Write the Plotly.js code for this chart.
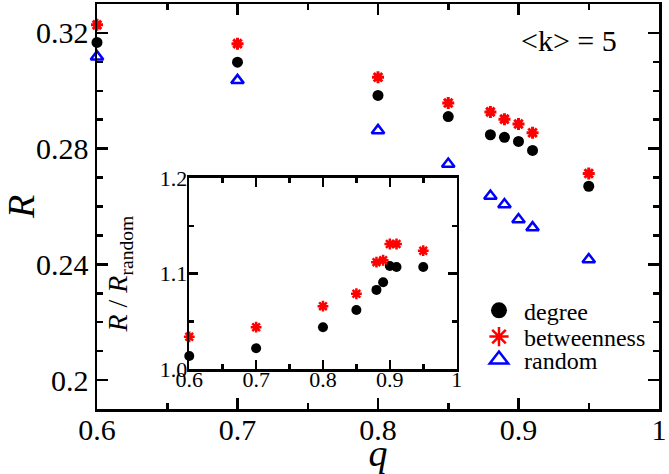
<!DOCTYPE html>
<html>
<head>
<meta charset="utf-8">
<script src="https://cdn.plot.ly/plotly-3.0.1.min.js"></script>
<style>html,body{margin:0;padding:0;background:#fff;}#chart{width:669px;height:474px;}</style>
</head>
<body>
<div id="chart"></div>
<script>
// ---- data ----
const q = [0.6, 0.7, 0.8, 0.85, 0.88, 0.89, 0.9, 0.91, 0.95];
const R_degree      = [0.3167, 0.3099, 0.2984, 0.2911, 0.2848, 0.2839, 0.2825, 0.2794, 0.2670];
const R_betweenness = [0.3228, 0.3163, 0.3047, 0.2958, 0.2927, 0.2902, 0.2885, 0.2855, 0.2714];
const R_random      = [0.3118, 0.3036, 0.2863, 0.2747, 0.2636, 0.2607, 0.2555, 0.2527, 0.2417];
const ratio_degree      = [1.014, 1.022, 1.044, 1.062, 1.083, 1.091, 1.108, 1.107, 1.107];
const ratio_betweenness = [1.034, 1.044, 1.066, 1.079, 1.112, 1.114, 1.131, 1.131, 1.124];
const seriesNames = ['degree', 'betweenness', 'random'];
const annotationText = '&lt;k&gt; = 5';

const FONT = '"Liberation Serif", "Times New Roman", Times, serif';
const BLACK = '#000000', RED = '#ff0000', BLUE = '#0000ff';

const degStyle = {color: BLACK, size: 11, symbol: 'circle'};
const betStyle = {color: RED, size: 10, symbol: 'asterisk-open', line: {color: RED, width: 3}};
const rndStyle = {color: BLUE, size: 11, symbol: 'triangle-up-open', line: {color: BLUE, width: 2.5}};

// empty helper traces so that the label-only axes get created
const holder = (xa, ya) => ({x: [null], y: [null], xaxis: xa, yaxis: ya, type: 'scatter', mode: 'markers',
  showlegend: false, hoverinfo: 'skip'});

const traces = [
  {x: q, y: R_degree, mode: 'markers', type: 'scatter', name: seriesNames[0], marker: degStyle, cliponaxis: false, showlegend: false},
  {x: q, y: R_betweenness, mode: 'markers', type: 'scatter', name: seriesNames[1], marker: betStyle, cliponaxis: false, showlegend: false},
  {x: q, y: R_random, mode: 'markers', type: 'scatter', name: seriesNames[2], marker: rndStyle, cliponaxis: false, showlegend: false},
  {x: q, y: ratio_degree, xaxis: 'x2', yaxis: 'y2', mode: 'markers', type: 'scatter', name: seriesNames[0],
   marker: {color: BLACK, size: 10, symbol: 'circle'}, cliponaxis: false, showlegend: false},
  {x: q, y: ratio_betweenness, xaxis: 'x2', yaxis: 'y2', mode: 'markers', type: 'scatter', name: seriesNames[1],
   marker: {color: RED, size: 9, symbol: 'asterisk-open', line: {color: RED, width: 2.5}}, cliponaxis: false, showlegend: false},
  holder('x3', 'y'), holder('x4', 'y2'), holder('x2', 'y4'),
  // legend entries (no data)
  {x: [null], y: [null], mode: 'markers', type: 'scatter', name: seriesNames[0], legend: 'legend',
   marker: {color: BLACK, size: 16, symbol: 'circle'}},
  {x: [null], y: [null], mode: 'markers', type: 'scatter', name: seriesNames[1], legend: 'legend2',
   marker: {color: RED, size: 16, symbol: 'asterisk-open', line: {color: RED, width: 2.5}}},
  {x: [null], y: [null], mode: 'markers', type: 'scatter', name: seriesNames[2], legend: 'legend3',
   marker: {color: BLUE, size: 16, symbol: 'triangle-up-open', line: {color: BLUE, width: 2.5}}}
];

const axisCommon = {
  showline: true, linecolor: BLACK, linewidth: 2.5, mirror: 'ticks',
  ticks: 'inside', tickcolor: BLACK, tickwidth: 2.5, showgrid: false, zeroline: false,
  tickmode: 'linear', showticklabels: false
};
// axes that only carry tick labels (placed a few px closer to the frame)
const labelAxis = {
  showline: false, ticks: '', showgrid: false, zeroline: false, tickmode: 'linear', showticklabels: true,
  anchor: 'free'
};
const legendCommon = {x: 0.6708, xanchor: 'left', yanchor: 'middle', bgcolor: 'rgba(0,0,0,0)', itemwidth: 40,
  font: {family: FONT, size: 24, color: BLACK}, borderwidth: 0};

const MAIN_H = 405, MAIN_W = 562;
const insetX = [0.1642, 0.640], insetY = [0.098, 0.5704];

const layout = {
  width: 669, height: 474,
  margin: {l: 97, r: 10, t: 4, b: 65, pad: 0},
  paper_bgcolor: '#fff', plot_bgcolor: 'rgba(0,0,0,0)',
  font: {family: FONT, color: BLACK},
  xaxis: Object.assign({}, axisCommon, {
    domain: [0, 1], range: [0.6, 1.0], tick0: 0.6, dtick: 0.1, ticklen: 11,
    minor: {dtick: 0.05, ticks: 'inside', ticklen: 6, tickwidth: 2.5, tickcolor: BLACK, showgrid: false}
  }),
  xaxis3: Object.assign({}, labelAxis, {
    overlaying: 'x', position: 0, range: [0.6, 1.0], tick0: 0.6, dtick: 0.1, tickformat: '.1~f',
    tickfont: {family: FONT, size: 30, color: BLACK},
    title: {text: '<i>q</i>', font: {family: FONT, size: 38, color: BLACK}, standoff: 0}
  }),
  yaxis: Object.assign({}, axisCommon, {
    range: [0.19, 0.33], tick0: 0.2, dtick: 0.04, ticklen: 11, tickformat: '.2~f', showticklabels: true,
    tickfont: {family: FONT, size: 30, color: BLACK},
    minor: {dtick: 0.01, ticks: 'inside', ticklen: 6, tickwidth: 2.5, tickcolor: BLACK, showgrid: false},
    title: {text: '<i>R</i>', font: {family: FONT, size: 38, color: BLACK}, standoff: 6}
  }),
  xaxis2: Object.assign({}, axisCommon, {
    domain: insetX, anchor: 'y2', range: [0.6, 1.0], tick0: 0.6, dtick: 0.1, ticklen: 9,
    minor: {dtick: 0.05, ticks: 'inside', ticklen: 5, tickwidth: 2.5, tickcolor: BLACK, showgrid: false}
  }),
  yaxis2: Object.assign({}, axisCommon, {
    domain: insetY, anchor: 'x2', range: [1.0, 1.2], tick0: 1.0, dtick: 0.1, ticklen: 9,
    minor: {dtick: 0.05, ticks: 'inside', ticklen: 5, tickwidth: 2.5, tickcolor: BLACK, showgrid: false}
  }),
  xaxis4: Object.assign({}, labelAxis, {
    overlaying: 'x2', position: insetY[0] + 5 / MAIN_H, range: [0.6, 1.0], tick0: 0.6, dtick: 0.1, tickformat: '.1~f',
    tickfont: {family: FONT, size: 22, color: BLACK}
  }),
  yaxis4: Object.assign({}, labelAxis, {
    overlaying: 'y2', side: 'left', position: insetX[0] - 2 / MAIN_W, range: [1.0, 1.2], tick0: 1.0, dtick: 0.1, tickformat: '.1f',
    tickfont: {family: FONT, size: 22, color: BLACK},
    title: {text: '<i>R</i> / <i>R</i><sub>random</sub>', font: {family: FONT, size: 28, color: BLACK}, standoff: 22}
  }),
  legend: Object.assign({}, legendCommon, {y: 0.2427}),
  legend2: Object.assign({}, legendCommon, {y: 0.1778}),
  legend3: Object.assign({}, legendCommon, {y: 0.121}),
  annotations: [
    {text: annotationText, xref: 'paper', yref: 'paper', x: 0.84, y: 0.91, xanchor: 'center', yanchor: 'middle',
     showarrow: false, font: {family: FONT, size: 30, color: BLACK}}
  ],
  shapes: [
    {type: 'rect', xref: 'paper', yref: 'paper', x0: insetX[0], x1: insetX[1], y0: insetY[0], y1: insetY[1],
     fillcolor: '#ffffff', line: {width: 0}, layer: 'below'}
  ]
};

Plotly.newPlot('chart', traces, layout, {displayModeBar: false, staticPlot: true});
</script>
</body>
</html>
